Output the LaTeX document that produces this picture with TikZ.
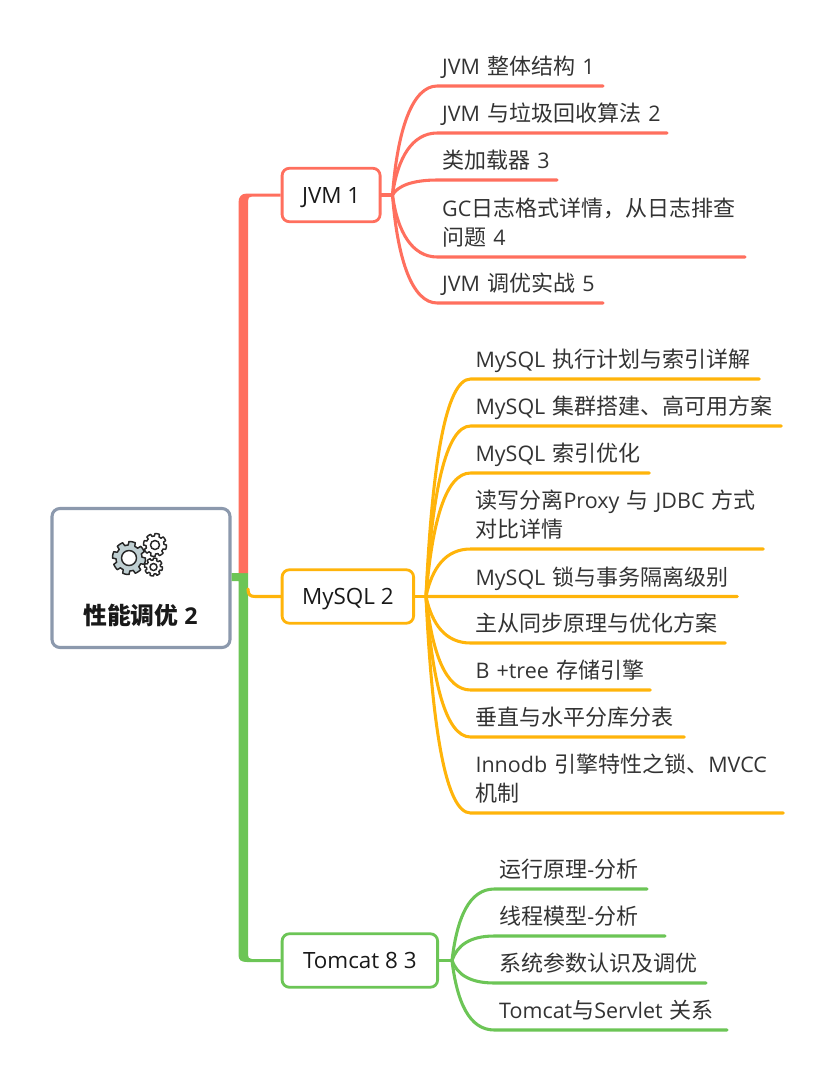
\documentclass[tikz,border=0pt]{standalone}
\usepackage{fontspec}
\setmainfont{Open Sans}
\newfontfamily\cjk[Scale=1.025]{Noto Sans CJK SC}
\newcommand{\zh}[1]{{\cjk #1}}
\usetikzlibrary{calc}

\definecolor{jvmcol}{HTML}{FF6F5E}
\definecolor{sqlcol}{HTML}{FFB40A}
\definecolor{catcol}{HTML}{6CC556}
\definecolor{rootcol}{HTML}{8C99AD}
\definecolor{gearcol}{HTML}{BFCFD2}

\begin{document}
\begin{tikzpicture}
     [x=0.75pt,y=-0.75pt,
      % Styles
        root box/.style={draw=rootcol,line width=2.3pt,rounded corners=6pt,fill=white,
          minimum width=178*0.75pt,minimum height=139*0.75pt},
        title text/.style={font=\fontsize{17.4}{20}\selectfont\bfseries,text=black!90},
        topic box/.style={draw=#1,line width=2.1pt,rounded corners=5.5pt,fill=white,
          minimum height=53.5*0.75pt,anchor=west,inner sep=0pt,text height=12pt,text depth=0pt,
          font=\fontsize{16.8}{20}\selectfont,text=black!90},
        leaf/.style={anchor=south west,inner xsep=3.5pt,inner ysep=1.7pt,
          text width=#1*0.75pt-8.1pt,align=left,text=black!80,
          execute at begin node=\strut,execute at end node=\strut,
          font=\fontsize{16.1}{21.75}\selectfont},
        branch/.style={line width=2.3pt,line cap=round,line join=round}]
    \useasboundingbox (0,0) rectangle (834,1082);

    % main boxes
    \node[root box] (root) at (141,578) {};
    \node[topic box=jvmcol,minimum width=98*0.75pt] (jvm) at (280.7,195) {JVM 1};
    \node[topic box=sqlcol,minimum width=131.5*0.75pt] (mysql) at (280.7,596.5) {MySQL 2};
    \node[topic box=catcol,minimum width=155.5*0.75pt] (tomcat) at (280.7,960.5) {Tomcat 8 3};
    \node[title text] (title) at (140.5,615) {\zh{性能调优} 2};

    % gears
    \foreach \cx/\cy/\ro/\ri/\hole/\col in {129/558/16.5/13/7.5/gearcol,155/545/11.5/9/4.5/white,153.5/567/9/7/3.5/white}{
      \draw[line width=1.1pt,draw=black!85,fill=\col,line join=round]
        plot[samples at={0,...,95},variable=\t]
          ({\cx+(\ro-(\ro-\ri)*(mod(\t,12)>6 ? 1 : 0))*cos(\t*3.75)},{\cy+(\ro-(\ro-\ri)*(mod(\t,12)>6 ? 1 : 0))*sin(\t*3.75)}) -- cycle;
      \draw[line width=1.1pt,draw=black!85,fill=white] (\cx,\cy) circle[radius=\hole];
    }

    % trunk
    \fill[catcol] ($(root.east)+(0,-5)$) -- (248,573) -- (248,955)
      .. controls (248,957.5) and (249,959) .. (252,959) -- ($(tomcat.west)+(0,-1.5)$)
      -- ($(tomcat.west)+(0,1.5)$) -- (247,962) .. controls (241,962) and (238.5,960) .. (238.5,955)
      -- (238.5,581) -- ($(root.east)+(0,3)$) -- cycle;
    \fill[jvmcol] (238.5,573) -- (238.5,203) .. controls (238.5,197) and (241,193.5) .. (247,193.5)
      -- ($(jvm.west)+(0,-1.5)$) -- ($(jvm.west)+(0,1.5)$) -- (252,196.5)
      .. controls (249,196.5) and (248,198) .. (248,201) -- (248,573) -- cycle;
    \draw[sqlcol,branch] (248,589) .. controls (248,594.5) and (250,596.5) .. (255,596.5) -- (mysql.west);

    % JVM
    \coordinate (jvm hub) at ($(jvm.east)+(11,0)$);
    \node[leaf=166.7] (j1) at (437.3,86) {JVM \zh{整体结构} 1};
    \node[leaf=230.7] (j2) at (437.3,133) {JVM \zh{与垃圾回收算法} 2};
    \node[leaf=120.7] (j3) at (437.3,180) {\zh{类加载器} 3};
    \node[leaf=308.7] (j4) at (437.3,257) {GC\zh{日志格式详情，从日志排查}\\\zh{问题} 4};
    \node[leaf=166.7] (j5) at (437.3,303) {JVM \zh{调优实战} 5};
    \draw[jvmcol,branch] (jvm.east) -- (jvm hub);
    \foreach \n in {j1,j2,j3,j4,j5}
      \draw[jvmcol,branch] (jvm hub) .. controls ($(jvm hub)!0.6!(jvm hub |- \n.south west)+(5,0)$)
        and ($(\n.south west)+(-25,0)$) .. (\n.south west) -- (\n.south east);

    % MySQL
    \coordinate (mysql hub) at ($(mysql.east)+(11,0)$);
    \node[leaf=289.7] (m1) at (470.6,379) {MySQL \zh{执行计划与索引详解}};
    \node[leaf=311.7] (m2) at (470.6,426) {MySQL \zh{集群搭建、高可用方案}};
    \node[leaf=179.7] (m3) at (470.6,473) {MySQL \zh{索引优化}};
    \node[leaf=293.7] (m4) at (470.6,549) {\zh{读写分离}Proxy \zh{与} JDBC \zh{方式}\\\zh{对比详情}};
    \node[leaf=267.7] (m5) at (470.6,596.5) {MySQL \zh{锁与事务隔离级别}};
    \node[leaf=255.7] (m6) at (470.6,643) {\zh{主从同步原理与优化方案}};
    \node[leaf=180.7] (m7) at (470.6,690) {B +tree \zh{存储引擎}};
    \node[leaf=214.7] (m8) at (470.6,737) {\zh{垂直与水平分库分表}};
    \node[leaf=313.7] (m9) at (470.6,813) {Innodb \zh{引擎特性之锁、}MVCC\\\zh{机制}};
    \draw[sqlcol,branch] (mysql.east) -- (mysql hub);
    \foreach \n in {m1,m2,m3,m4,m5,m6,m7,m8,m9}
      \draw[sqlcol,branch] (mysql hub) .. controls ($(mysql hub)!0.6!(mysql hub |- \n.south west)+(6,0)$)
        and ($(\n.south west)+(-25,0)$) .. (\n.south west) -- (\n.south east);

    % Tomcat
    \coordinate (tomcat hub) at ($(tomcat.east)+(13,0)$);
    \node[leaf=153.7] (t1) at (494.3,889) {\zh{运行原理}-\zh{分析}};
    \node[leaf=171.7] (t2) at (494.3,936) {\zh{线程模型}-\zh{分析}};
    \node[leaf=212.7] (t3) at (494.3,983) {\zh{系统参数认识及调优}};
    \node[leaf=233.7] (t4) at (494.3,1030) {Tomcat\zh{与}Servlet \zh{关系}};
    \draw[catcol,branch] (tomcat.east) -- (tomcat hub);
    \foreach \n in {t1,t2,t3,t4}
      \draw[catcol,branch] (tomcat hub) .. controls ($(tomcat hub)!0.6!(tomcat hub |- \n.south west)+(5,0)$)
        and ($(\n.south west)+(-25,0)$) .. (\n.south west) -- (\n.south east);
  \end{tikzpicture}
\end{document}
